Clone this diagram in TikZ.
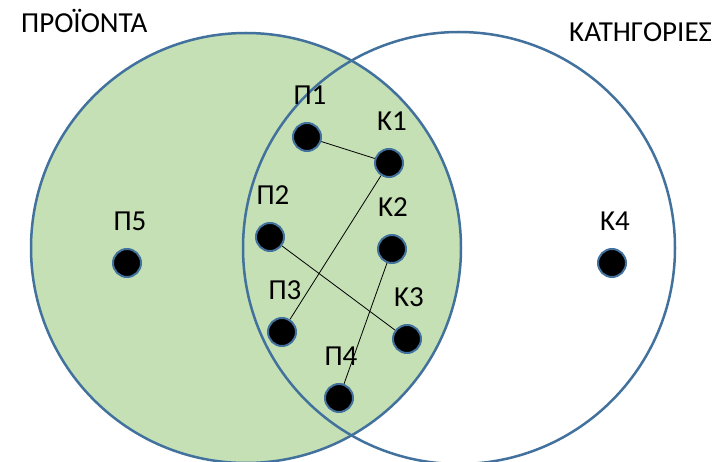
\documentclass[tikz,border=0pt]{standalone}
\usepackage{fontspec}
\setmainfont{Carlito}
\usetikzlibrary{positioning}
\definecolor{ringblue}{HTML}{41719C}
\definecolor{setgreen}{HTML}{C5E0B4}
\begin{document}
\begin{tikzpicture}[x=1pt,y=-1pt,
        dot/.style={circle,fill=black,draw=ringblue,line width=2pt,minimum size=28pt,inner sep=0pt},
        lbl/.style={inner sep=0pt,font=\fontsize{29}{34}\selectfont},
        ring/.style={draw=ringblue,line width=2.5pt},
        link/.style={line width=0.8pt}]
    \useasboundingbox (0,0) rectangle (718,462);

    % the two sets
    \fill [setgreen] (246,248) circle [radius=215pt];
    \draw [ring] (246,248) circle [radius=215pt];
    \draw [ring] (459,248) circle [radius=216pt];

    \node [lbl,anchor=base west] (prod) at (21,33) {ΠΡΟΪΟΝΤΑ};
    \node [lbl,anchor=base west] (cat) at (569,42) {ΚΑΤΗΓΟΡΙΕΣ};

    % products
    \node [dot] (p1) at (307,137) {};
    \node [dot] (p2) at (270,237) {};
    \node [dot] (p3) at (282,332) {};
    \node [dot] (p4) at (339,398) {};
    \node [dot] (p5) at (127,263) {};

    % categories
    \node [dot] (k1) at (389,163) {};
    \node [dot] (k2) at (392,249) {};
    \node [dot] (k3) at (407,339) {};
    \node [dot] (k4) at (612,263) {};

    \node [lbl,above=17.5pt of p1,xshift=3pt] (lp1) {Π1};
    \node [lbl,above=17.5pt of p2,xshift=3pt] (lp2) {Π2};
    \node [lbl,above=17.5pt of p3,xshift=3pt] (lp3) {Π3};
    \node [lbl,above=17.5pt of p4,xshift=2pt] (lp4) {Π4};
    \node [lbl,above=17.5pt of p5,xshift=3pt] (lp5) {Π5};
    \node [lbl,above=17.5pt of k1,xshift=3pt] (lk1) {Κ1};
    \node [lbl,above=17.5pt of k2,xshift=1pt] (lk2) {Κ2};
    \node [lbl,above=17.5pt of k3,xshift=2pt] (lk3) {Κ3};
    \node [lbl,above=17.5pt of k4,xshift=3pt] (lk4) {Κ4};

    \draw [link] (p1) -- (k1);
    \draw [link] (k1) -- (p3);
    \draw [link] (p2) -- (k3);
    \draw [link] (k2) -- (p4);
\end{tikzpicture}
\end{document}
